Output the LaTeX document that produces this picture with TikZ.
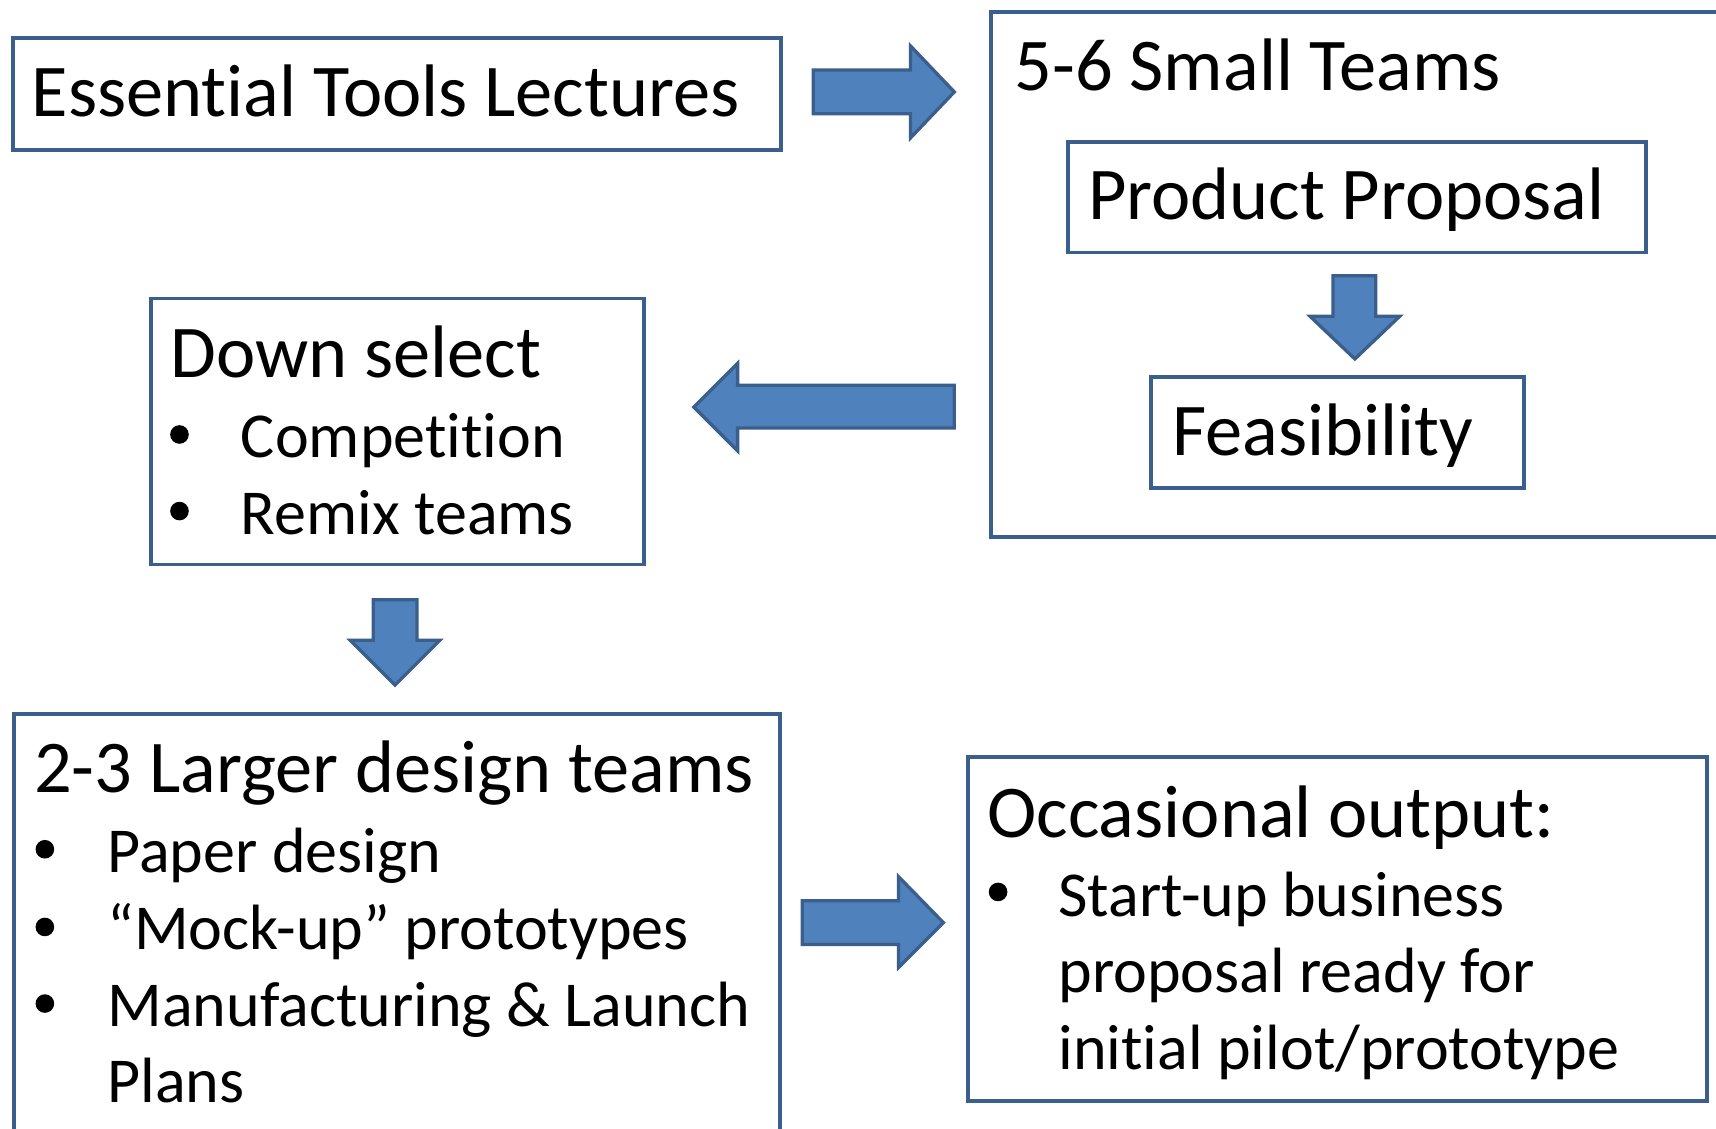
\documentclass[tikz,border=0pt]{standalone}
\usepackage{fontspec}
\setmainfont{Carlito}[Ligatures={NoCommon}]
\definecolor{bfill}{HTML}{4F81BD}
\definecolor{bline}{HTML}{3A5F8C}
\tikzset{
  box/.style={draw=bline, line width=3.5pt, fill=white, inner sep=0pt, anchor=north west},
  blk/.style={fill=bfill, draw=bline, line width=3pt, line join=miter},
  ttl/.style={anchor=base west, inner sep=0pt, font=\fontsize{68}{80}\selectfont},
  itm/.style={anchor=base west, inner sep=0pt, font=\fontsize{58.5}{70}\selectfont},
  dot/.style={circle, fill=black, inner sep=0pt, minimum size=17pt},
}
\begin{document}
\begin{tikzpicture}[x=1pt,y=-1pt]
\useasboundingbox (0,0) rectangle (1568,1031);
\clip (0,0) rectangle (1568,1031);
\fill[white] (0,0) rectangle (1568,1031);

% boxes
\node[box, minimum width=702pt, minimum height=102pt] (etl) at (10,33) {};
\node[box, minimum width=686pt, minimum height=480pt] (small) at (904,9) {};
\node[box, minimum width=528pt, minimum height=101pt] (prop) at (974,128) {};
\node[box, minimum width=341pt, minimum height=101pt] (feas) at (1050,343) {};
\node[box, minimum width=451pt, minimum height=243pt] (down) at (136,271) {};
\node[box, minimum width=700pt, minimum height=420pt] (large) at (11,651) {};
\node[box, minimum width=675pt, minimum height=314pt] (occ) at (883,690) {};

% block arrows
\filldraw[blk] (743,64) -- (832,64) -- (832,42) -- (872,84) -- (832,126) -- (832,104) -- (743,104) -- cycle;
\filldraw[blk] (1218,252) -- (1257,252) -- (1257,289) -- (1279,289) -- (1238,328) -- (1197,289) -- (1218,289) -- cycle;
\filldraw[blk] (872,352) -- (674,352) -- (674,332) -- (634,372) -- (674,412) -- (674,391) -- (872,391) -- cycle;
\filldraw[blk] (341,548) -- (381,548) -- (381,585) -- (402,585) -- (361,626) -- (320,585) -- (341,585) -- cycle;
\filldraw[blk] (733,823) -- (821,823) -- (821,801) -- (862,843) -- (821,884) -- (821,863) -- (733,863) -- cycle;

% texts
\node[ttl] (t1) at (29,106) {Essential Tools Lectures};
\node[ttl] (t2) at (927,83) {5-6 Small Teams};
\node[ttl] (t3) at (994,201) {Product Proposal};
\node[ttl] (t4) at (1071,416) {Feasibility};
\node[ttl] (t5) at (156,345) {Down select};
\node[dot] (b51) at (164,397) {};
\node[itm] (t51) at (220,418) {Competition};
\node[dot] (b52) at (164,467) {};
\node[itm] (t52) at (220,488) {Remix teams};
\node[ttl] (t6) at (31,724) {2-3 Larger design teams};
\node[dot] (b61) at (41,776) {};
\node[itm] (t61) at (98,797) {Paper design};
\node[dot] (b62) at (41,847) {};
\node[itm] (t62) at (98,868) {“Mock-up” prototypes};
\node[dot] (b63) at (41,917) {};
\node[itm] (t63) at (98,938) {Manufacturing \& Launch};
\node[itm] (t64) at (98,1007) {Plans};
\node[ttl] (t7) at (902,765) {Occasional output:};
\node[dot] (b71) at (912,815) {};
\node[itm] (t71) at (967,837) {Start-up business};
\node[itm] (t72) at (967,907) {proposal ready for};
\node[itm] (t73) at (967,977) {initial pilot/prototype};
\end{tikzpicture}
\end{document}
